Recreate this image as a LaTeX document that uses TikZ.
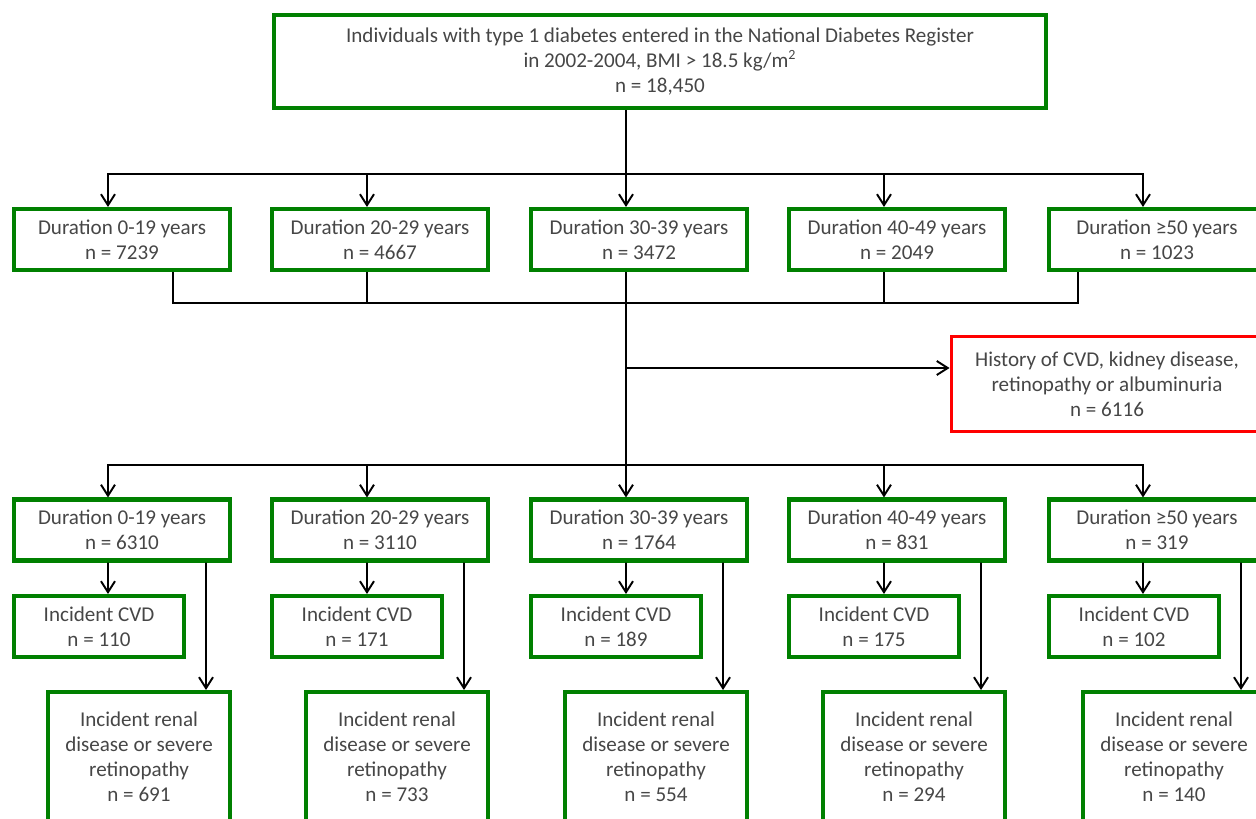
\documentclass[tikz,border=0pt]{standalone}
\usepackage{fontspec}
\setmainfont{Carlito}
\usetikzlibrary{arrows.meta}
\definecolor{boxgreen}{RGB}{0,128,0}
\definecolor{boxred}{RGB}{255,0,0}
\definecolor{textgray}{RGB}{70,70,70}
\tikzstyle{cohort} = [rectangle, minimum width=15.44cm, minimum height=1.86cm, inner sep=0pt, align=center, text=textgray, draw=boxgreen, line width=2.3pt, font=\fontsize{12}{14.2}\selectfont]
\tikzstyle{group} = [cohort, minimum width=4.32cm, minimum height=1.22cm]
\tikzstyle{cvd} = [cohort, minimum width=3.4cm, minimum height=1.22cm]
\tikzstyle{renal} = [cohort, minimum width=3.64cm, minimum height=2.6cm]
\tikzstyle{excluded} = [cohort, minimum width=6.24cm, minimum height=1.9cm, draw=boxred, line width=1.7pt]
\tikzstyle{link} = [line width=1.1pt, draw=black]
\tikzstyle{arrow} = [link, -{Straight Barb[length=2.2mm, width=2.8mm]}]

\begin{document}
\begin{tikzpicture}[x=0.02cm, y=-0.02cm]
        \useasboundingbox (0,0) rectangle (1256,818);
        \clip (0,0) rectangle (1256,818);

        \node (top) [cohort] at (660,61.5) {Individuals with type 1 diabetes entered in the National Diabetes Register\\in 2002-2004, BMI > 18.5 kg/m\textsuperscript{2}\\n = 18,450};

        \node (d1) [group] at (122,239.5) {Duration 0-19 years\\n = 7239};
        \node (d2) [group] at (380,239.5) {Duration 20-29 years\\n = 4667};
        \node (d3) [group] at (639,239.5) {Duration 30-39 years\\n = 3472};
        \node (d4) [group] at (897,239.5) {Duration 40-49 years\\n = 2049};
        \node (d5) [group] at (1157,239.5) {Duration ≥50 years\\n = 1023};

        \node (hist) [excluded] at (1107,384) {History of CVD, kidney disease,\\retinopathy or albuminuria\\n = 6116};

        \node (e1) [group] at (122,530) {Duration 0-19 years\\n = 6310};
        \node (e2) [group] at (380,530) {Duration 20-29 years\\n = 3110};
        \node (e3) [group] at (639,530) {Duration 30-39 years\\n = 1764};
        \node (e4) [group] at (897,530) {Duration 40-49 years\\n = 831};
        \node (e5) [group] at (1157,530) {Duration ≥50 years\\n = 319};

        \node (c1) [cvd] at (99,626.5) {Incident CVD\\n = 110};
        \node (c2) [cvd] at (357,626.5) {Incident CVD\\n = 171};
        \node (c3) [cvd] at (616,626.5) {Incident CVD\\n = 189};
        \node (c4) [cvd] at (874,626.5) {Incident CVD\\n = 175};
        \node (c5) [cvd] at (1134,626.5) {Incident CVD\\n = 102};

        \node (r1) [renal] at (139,757) {Incident renal\\disease or severe\\retinopathy\\n = 691};
        \node (r2) [renal] at (397,757) {Incident renal\\disease or severe\\retinopathy\\n = 733};
        \node (r3) [renal] at (656,757) {Incident renal\\disease or severe\\retinopathy\\n = 554};
        \node (r4) [renal] at (914,757) {Incident renal\\disease or severe\\retinopathy\\n = 294};
        \node (r5) [renal] at (1174,757) {Incident renal\\disease or severe\\retinopathy\\n = 140};

        \coordinate (split1) at (626,174);
        \coordinate (merge) at (626,303);
        \coordinate (branch) at (626,368);
        \coordinate (split2) at (626,465);

        \draw [link] (top.south -| split1) -- (split1);
        \draw [arrow] (split1) -| ([xshift=1.92cm]d1.north west);
        \draw [arrow] (split1) -| ([xshift=1.94cm]d2.north west);
        \draw [arrow] (split1) -- ([xshift=1.94cm]d3.north west);
        \draw [arrow] (split1) -| ([xshift=1.94cm]d4.north west);
        \draw [arrow] (split1) -| ([xshift=1.92cm]d5.north west);

        \draw [link] ([xshift=3.22cm]d1.south west) |- (merge);
        \draw [link] ([xshift=1.94cm]d2.south west) |- (merge);
        \draw [link] ([xshift=1.94cm]d3.south west) -- (merge);
        \draw [link] ([xshift=1.94cm]d4.south west) |- (merge);
        \draw [link] ([xshift=0.62cm]d5.south west) |- (merge);

        \draw [link] (merge) -- (split2);
        \draw [arrow] (branch) -- (branch -| hist.west);

        \draw [arrow] (split2) -| ([xshift=1.92cm]e1.north west);
        \draw [arrow] (split2) -| ([xshift=1.94cm]e2.north west);
        \draw [arrow] (split2) -- ([xshift=1.94cm]e3.north west);
        \draw [arrow] (split2) -| ([xshift=1.94cm]e4.north west);
        \draw [arrow] (split2) -| ([xshift=1.92cm]e5.north west);

        \draw [arrow] ([xshift=1.92cm]e1.south west) -- ([xshift=1.92cm]c1.north west);
        \draw [arrow] ([xshift=1.94cm]e2.south west) -- ([xshift=1.94cm]c2.north west);
        \draw [arrow] ([xshift=1.94cm]e3.south west) -- ([xshift=1.94cm]c3.north west);
        \draw [arrow] ([xshift=1.94cm]e4.south west) -- ([xshift=1.94cm]c4.north west);
        \draw [arrow] ([xshift=1.92cm]e5.south west) -- ([xshift=1.92cm]c5.north west);

        \draw [arrow] ([xshift=-0.52cm]e1.south east) -- ([xshift=-0.52cm]r1.north east);
        \draw [arrow] ([xshift=-0.52cm]e2.south east) -- ([xshift=-0.52cm]r2.north east);
        \draw [arrow] ([xshift=-0.52cm]e3.south east) -- ([xshift=-0.52cm]r3.north east);
        \draw [arrow] ([xshift=-0.52cm]e4.south east) -- ([xshift=-0.52cm]r4.north east);
        \draw [arrow] ([xshift=-0.52cm]e5.south east) -- ([xshift=-0.52cm]r5.north east);
    \end{tikzpicture}
\end{document}
